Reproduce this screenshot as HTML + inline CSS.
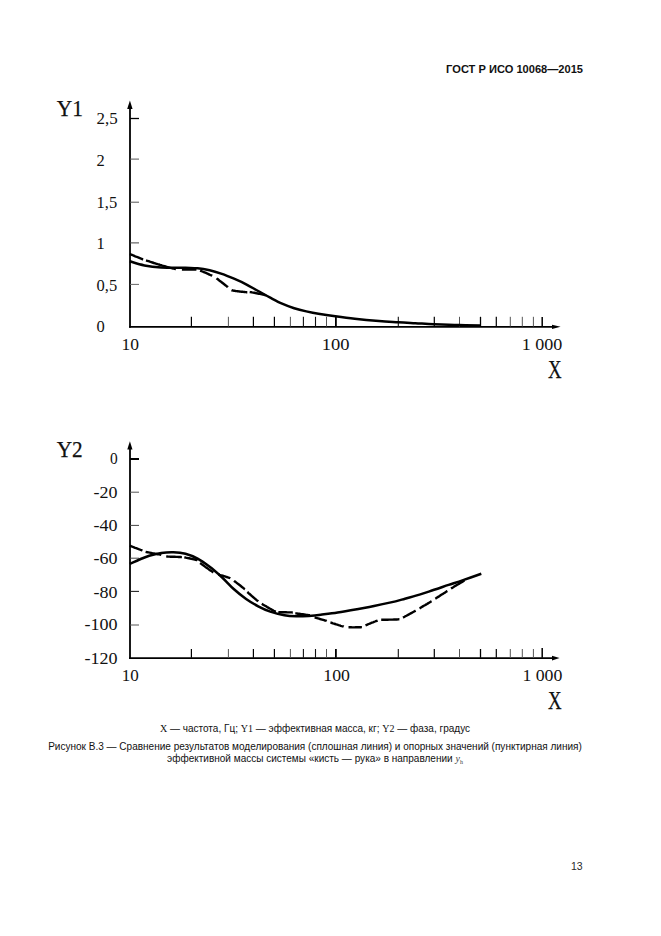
<!DOCTYPE html>
<html><head><meta charset="utf-8">
<style>
html,body{margin:0;padding:0;background:#fff;}
body{width:661px;height:936px;position:relative;overflow:hidden;font-family:"Liberation Sans",sans-serif;color:#111;}
svg{position:absolute;left:0;top:0;}

.t{position:absolute;white-space:nowrap;line-height:1;}
.hdr{font-weight:bold;font-size:11.1px;right:78px;top:63.8px;}
.cap{font-size:10.03px;text-align:center;left:-15.5px;width:661px;}
.sf{font-family:"Liberation Serif",serif;}
svg text{font-family:"Liberation Serif",serif;fill:#111;}
</style></head><body>
<svg width="661" height="936" viewBox="0 0 661 936">
<!-- chart 1 axes -->
<line x1="130" y1="106" x2="130" y2="327.7" stroke="#000" stroke-width="1.8"/>
<line x1="129.1" y1="326.8" x2="553" y2="326.8" stroke="#000" stroke-width="1.8"/>
<path d="M129.9 100.5 L132.6 108.9 L127.2 108.9 Z" fill="#000"/>
<path d="M560.6 326.8 L552 324.7 L552 328.9 Z" fill="#000"/>
<line x1="130" y1="118.5" x2="139" y2="118.5" stroke="#000" stroke-width="1.3"/>
<line x1="130" y1="159.1" x2="139" y2="159.1" stroke="#555" stroke-width="1"/>
<line x1="130" y1="202.2" x2="139" y2="202.2" stroke="#555" stroke-width="1"/>
<line x1="130" y1="242.9" x2="139" y2="242.9" stroke="#444" stroke-width="1"/>
<line x1="130" y1="284.4" x2="139" y2="284.4" stroke="#666" stroke-width="1"/>
<line x1="191.4" y1="316.8" x2="191.4" y2="326.5" stroke="#000" stroke-width="1.2"/>
<line x1="228.4" y1="316.8" x2="228.4" y2="326.5" stroke="#555" stroke-width="1.0"/>
<line x1="253.4" y1="316.8" x2="253.4" y2="326.5" stroke="#000" stroke-width="1.2"/>
<line x1="274.4" y1="316.8" x2="274.4" y2="326.5" stroke="#000" stroke-width="1.2"/>
<line x1="290.4" y1="316.8" x2="290.4" y2="326.5" stroke="#555" stroke-width="1.0"/>
<line x1="303.4" y1="316.8" x2="303.4" y2="326.5" stroke="#111" stroke-width="1.1"/>
<line x1="315.5" y1="316.8" x2="315.5" y2="326.5" stroke="#111" stroke-width="1.1"/>
<line x1="326.5" y1="316.8" x2="326.5" y2="326.5" stroke="#555" stroke-width="1.0"/>
<line x1="335.9" y1="316.8" x2="335.9" y2="326.5" stroke="#000" stroke-width="1.8"/>
<line x1="398.3" y1="316.8" x2="398.3" y2="326.5" stroke="#111" stroke-width="1.1"/>
<line x1="434.3" y1="316.8" x2="434.3" y2="326.5" stroke="#000" stroke-width="1.2"/>
<line x1="459.5" y1="316.8" x2="459.5" y2="326.5" stroke="#555" stroke-width="1.0"/>
<line x1="480.5" y1="316.8" x2="480.5" y2="326.5" stroke="#000" stroke-width="1.3"/>
<line x1="496.3" y1="316.8" x2="496.3" y2="326.5" stroke="#000" stroke-width="1.2"/>
<line x1="510.3" y1="316.8" x2="510.3" y2="326.5" stroke="#555" stroke-width="1.0"/>
<line x1="522.3" y1="316.8" x2="522.3" y2="326.5" stroke="#555" stroke-width="1.0"/>
<line x1="533.4" y1="316.8" x2="533.4" y2="326.5" stroke="#555" stroke-width="1.0"/>
<line x1="542.2" y1="317.1" x2="542.2" y2="326.5" stroke="#000" stroke-width="1.5"/>
<path d="M129.8 261.3 C132.2 262.0 139.2 264.4 144.4 265.4 C149.7 266.4 154.5 267.0 161.3 267.4 C168.2 267.8 179.4 267.6 185.5 267.8 C191.6 268.0 193.6 267.9 197.6 268.3 C201.6 268.7 205.6 269.4 209.7 270.3 C213.8 271.2 217.8 272.5 221.9 273.9 C226.0 275.3 230.0 277.0 234.0 278.7 C238.0 280.4 242.1 282.2 246.1 284.3 C250.1 286.4 254.2 288.8 258.2 291.0 C262.2 293.2 266.3 295.6 270.3 297.7 C274.3 299.8 278.1 301.9 282.1 303.6 C286.1 305.4 290.2 306.9 294.2 308.2 C298.2 309.5 302.3 310.5 306.3 311.4 C310.3 312.3 313.5 313.0 318.4 313.8 C323.2 314.6 329.3 315.5 335.4 316.3 C341.4 317.1 347.4 317.9 354.7 318.7 C362.0 319.5 371.7 320.4 379.0 321.0 C386.3 321.6 392.2 321.9 398.3 322.3 C404.4 322.7 409.4 322.9 415.3 323.2 C421.2 323.5 426.7 323.9 434.0 324.2 C441.3 324.5 451.2 324.9 459.0 325.1 C466.8 325.3 476.9 325.4 480.5 325.5" fill="none" stroke="#000" stroke-width="2.5"/>
<path d="M129.8 254.0 L130.4 254.2 L131.1 254.5 L131.8 254.8 L132.7 255.2 L133.7 255.6 L134.7 256.1 L135.8 256.5 L136.9 257.0 L138.1 257.4 L139.3 257.9 L140.5 258.4 L141.7 258.8 L142.8 259.3 L143.2 259.4 M146.0 260.4 L147.3 260.8 L148.6 261.2 L149.9 261.7 L151.2 262.1 L152.5 262.5 L153.9 263.0 L155.2 263.4 L156.5 263.8 L157.7 264.2 L158.9 264.5 L160.1 264.9 L161.2 265.2 L162.3 265.6 L163.4 265.9 L164.5 266.2 L165.6 266.5 L166.6 266.8 L167.6 267.1 L168.6 267.4 L169.6 267.7 L170.5 267.9 L171.4 268.1 L172.3 268.3 L173.1 268.5 L173.9 268.7 L174.7 268.9 L175.3 269.0 L175.9 269.1 L175.9 269.1 M181.9 269.6 L182.8 269.6 L183.9 269.6 L185.0 269.6 L186.1 269.6 L187.4 269.6 L188.6 269.6 L189.9 269.6 L191.1 269.6 L192.3 269.6 L193.4 269.6 L194.4 269.6 L195.4 269.6 L196.2 269.6 L196.4 269.6 M200.1 270.5 L200.8 270.8 L201.5 271.1 L202.4 271.5 L203.4 271.9 L204.4 272.3 L205.4 272.7 L206.5 273.2 L207.5 273.7 L208.5 274.1 L209.5 274.6 L210.4 275.0 L211.3 275.4 L212.0 275.7 L212.2 275.8 M216.5 278.3 L217.1 278.8 L217.9 279.3 L218.7 280.0 L219.6 280.7 L220.6 281.4 L221.6 282.2 L222.6 283.0 L223.6 283.8 L224.5 284.5 L225.4 285.2 L226.3 285.9 L227.0 286.5 L227.7 287.0 L227.9 287.2 M231.5 290.1 L231.9 290.3 L232.4 290.4 L232.9 290.5 L233.4 290.6 L233.9 290.7 L234.5 290.8 L235.0 290.9 L235.6 291.0 L236.2 291.1 L236.8 291.1 L237.4 291.2 L238.0 291.3 L238.6 291.4 L239.2 291.5 L239.8 291.5 L240.5 291.6 L241.2 291.7 L241.9 291.8 L242.6 291.8 L243.4 291.9 L244.1 292.0 L244.7 292.0 L245.4 292.1 L246.0 292.1 L246.5 292.2 L247.0 292.2 L247.3 292.2 M249.7 292.0 L250.4 292.1 L251.2 292.2 L252.1 292.4 L253.2 292.6 L254.3 292.8 L255.4 293.0 L256.6 293.3 L257.8 293.5 L258.9 293.7 L260.0 293.9 L261.0 294.2 L262.0 294.4 L262.8 294.5 L263.4 294.7 L264.1 294.9 L264.6 295.0 L265.1 295.2 L265.6 295.3 L266.0 295.5 L266.0 295.5" fill="none" stroke="#000" stroke-width="2.4"/>
<g font-size="16.5">
<text x="96.5" y="123.8" textLength="21.2" lengthAdjust="spacingAndGlyphs">2,5</text>
<text x="96.5" y="165.5">2</text>
<text x="96.5" y="207.6">1,5</text>
<text x="96.5" y="249.4">1</text>
<text x="96.5" y="291.3">0,5</text>
<text x="96.5" y="332.3">0</text>
<text x="121.5" y="350" textLength="17.5" lengthAdjust="spacingAndGlyphs">10</text>
<text x="321.8" y="350" textLength="27.8" lengthAdjust="spacingAndGlyphs">100</text>
<text x="521.8" y="349.6" textLength="40.6" lengthAdjust="spacingAndGlyphs">1 000</text>
</g>
<text x="56.7" y="116" font-size="23.6" textLength="26.2" lengthAdjust="spacingAndGlyphs" stroke="#111" stroke-width="0.25">Y1</text>
<text x="548" y="378" font-size="24.5" textLength="13.6" lengthAdjust="spacingAndGlyphs" stroke="#111" stroke-width="0.25">X</text>

<!-- chart 2 axes -->
<line x1="130" y1="446" x2="130" y2="658.9" stroke="#000" stroke-width="1.8"/>
<line x1="129.1" y1="658.1" x2="553" y2="658.1" stroke="#000" stroke-width="1.6"/>
<path d="M129.9 441.2 L132.5 449.4 L127.3 449.4 Z" fill="#000"/>
<path d="M559.6 658.1 L552 655.8 L552 660.4 Z" fill="#000"/>
<line x1="130" y1="459.0" x2="139" y2="459.0" stroke="#000" stroke-width="2.0"/>
<line x1="130" y1="492.2" x2="139" y2="492.2" stroke="#555" stroke-width="1"/>
<line x1="130" y1="525.4" x2="139" y2="525.4" stroke="#444" stroke-width="1"/>
<line x1="130" y1="558.2" x2="139" y2="558.2" stroke="#444" stroke-width="1"/>
<line x1="130" y1="591.4" x2="139" y2="591.4" stroke="#222" stroke-width="1.1"/>
<line x1="130" y1="625" x2="139" y2="625" stroke="#555" stroke-width="1"/>
<line x1="191.4" y1="649.0" x2="191.4" y2="657.8" stroke="#000" stroke-width="1.2"/>
<line x1="228.4" y1="649.0" x2="228.4" y2="657.8" stroke="#555" stroke-width="1.0"/>
<line x1="253.4" y1="649.0" x2="253.4" y2="657.8" stroke="#000" stroke-width="1.2"/>
<line x1="274.4" y1="649.0" x2="274.4" y2="657.8" stroke="#000" stroke-width="1.2"/>
<line x1="290.4" y1="649.0" x2="290.4" y2="657.8" stroke="#555" stroke-width="1.0"/>
<line x1="303.4" y1="649.0" x2="303.4" y2="657.8" stroke="#111" stroke-width="1.1"/>
<line x1="315.5" y1="649.0" x2="315.5" y2="657.8" stroke="#111" stroke-width="1.1"/>
<line x1="326.5" y1="649.0" x2="326.5" y2="657.8" stroke="#555" stroke-width="1.0"/>
<line x1="335.9" y1="649.0" x2="335.9" y2="657.8" stroke="#000" stroke-width="1.8"/>
<line x1="398.3" y1="649.0" x2="398.3" y2="657.8" stroke="#111" stroke-width="1.1"/>
<line x1="434.3" y1="649.0" x2="434.3" y2="657.8" stroke="#000" stroke-width="1.2"/>
<line x1="459.5" y1="649.0" x2="459.5" y2="657.8" stroke="#555" stroke-width="1.0"/>
<line x1="480.5" y1="649.0" x2="480.5" y2="657.8" stroke="#000" stroke-width="1.3"/>
<line x1="496.3" y1="649.0" x2="496.3" y2="657.8" stroke="#000" stroke-width="1.2"/>
<line x1="510.3" y1="649.0" x2="510.3" y2="657.8" stroke="#555" stroke-width="1.0"/>
<line x1="522.3" y1="649.0" x2="522.3" y2="657.8" stroke="#555" stroke-width="1.0"/>
<line x1="533.4" y1="649.0" x2="533.4" y2="657.8" stroke="#555" stroke-width="1.0"/>
<line x1="542.2" y1="647.9" x2="542.2" y2="657.8" stroke="#000" stroke-width="1.5"/>
<path d="M129.8 563.9 C131.4 563.2 136.3 560.9 139.5 559.5 C142.7 558.1 145.6 556.8 149.2 555.7 C152.8 554.6 157.3 553.6 161.3 553.0 C165.3 552.4 169.4 552.2 173.4 552.3 C177.4 552.4 181.5 552.7 185.5 553.7 C189.5 554.8 193.6 556.4 197.6 558.6 C201.6 560.8 205.6 563.7 209.7 566.8 C213.8 569.9 217.8 573.5 221.9 577.2 C226.0 581.0 230.0 585.7 234.0 589.3 C238.0 592.9 242.1 596.2 246.1 599.0 C250.1 601.8 254.2 604.2 258.2 606.3 C262.2 608.4 265.9 610.1 270.3 611.6 C274.7 613.1 280.0 614.4 284.4 615.2 C288.8 616.0 292.5 616.1 296.5 616.2 C300.5 616.3 304.6 616.1 308.6 615.9 C312.6 615.6 315.9 615.3 320.7 614.7 C325.5 614.1 331.6 613.4 337.6 612.5 C343.7 611.6 350.9 610.3 357.0 609.2 C363.1 608.1 368.4 607.1 374.0 606.0 C379.6 604.9 385.7 603.6 390.9 602.4 C396.1 601.2 400.2 600.0 405.0 598.7 C409.8 597.4 414.6 596.1 419.5 594.6 C424.4 593.1 429.2 591.4 434.1 589.8 C439.0 588.2 443.8 586.5 448.6 584.9 C453.4 583.3 457.7 582.0 463.1 580.1 C468.6 578.2 478.3 574.8 481.3 573.8" fill="none" stroke="#000" stroke-width="2.5"/>
<path d="M129.8 545.7 L130.4 545.9 L131.1 546.2 L132.0 546.5 L132.9 546.9 L134.0 547.3 L135.1 547.8 L136.3 548.2 L137.4 548.7 L138.6 549.1 L139.6 549.5 L140.6 549.9 L141.5 550.2 L142.2 550.5 L142.4 550.6 M145.6 551.8 L146.4 552.0 L147.4 552.2 L148.5 552.4 L149.7 552.6 L151.0 552.9 L152.4 553.2 L153.8 553.4 L155.2 553.7 L156.6 553.9 L157.8 554.2 L159.0 554.4 L160.1 554.6 L161.0 554.8 L161.3 554.9 M166.2 556.4 L167.1 556.5 L168.1 556.6 L169.3 556.6 L170.5 556.7 L171.9 556.7 L173.3 556.8 L174.7 556.8 L176.1 556.9 L177.4 556.9 L178.7 557.0 L179.8 557.0 L180.8 557.0 L181.7 557.1 L181.9 557.1 M184.3 557.4 L185.0 557.5 L185.8 557.7 L186.8 557.9 L187.8 558.1 L189.0 558.3 L190.1 558.5 L191.3 558.8 L192.5 559.0 L193.7 559.3 L194.8 559.5 L195.8 559.8 L196.7 560.0 L197.4 560.2 L197.6 560.3 M200.1 563.0 L200.8 563.5 L201.6 564.1 L202.5 564.8 L203.6 565.6 L204.7 566.4 L205.8 567.2 L207.0 568.0 L208.2 568.9 L209.3 569.7 L210.4 570.4 L211.4 571.1 L212.4 571.7 L213.2 572.3 L213.4 572.4 M218.2 574.3 L218.9 574.5 L219.7 574.8 L220.6 575.1 L221.6 575.4 L222.6 575.7 L223.6 576.0 L224.7 576.3 L225.7 576.6 L226.7 577.0 L227.7 577.3 L228.6 577.6 L229.4 577.9 L230.1 578.1 L230.3 578.2 M234.0 580.8 L234.6 581.3 L235.3 581.8 L236.1 582.4 L237.0 583.1 L237.9 583.8 L238.9 584.5 L239.9 585.3 L240.8 586.0 L241.7 586.8 L242.6 587.4 L243.4 588.1 L244.1 588.7 L244.7 589.2 L244.9 589.3 M247.3 592.0 L247.9 592.5 L248.5 593.1 L249.3 593.8 L250.2 594.5 L251.1 595.3 L252.0 596.2 L253.0 597.0 L254.0 597.8 L254.9 598.6 L255.8 599.4 L256.6 600.1 L257.4 600.7 L258.0 601.2 L258.2 601.4 M261.8 603.8 L262.5 604.2 L263.2 604.7 L264.1 605.2 L265.0 605.7 L266.1 606.3 L267.1 607.0 L268.2 607.6 L269.2 608.2 L270.2 608.8 L271.2 609.3 L272.1 609.9 L273.0 610.3 L273.7 610.7 L274.3 611.0 L274.7 611.2 L275.1 611.4 L275.4 611.6 L275.6 611.7 L275.8 611.8 L275.9 611.8 M278.3 612.1 L279.1 612.2 L280.0 612.2 L281.1 612.2 L282.3 612.3 L283.5 612.3 L284.8 612.3 L286.1 612.3 L287.4 612.4 L288.6 612.4 L289.8 612.4 L290.8 612.4 L291.8 612.4 L292.6 612.5 L292.8 612.5 M295.3 613.3 L296.0 613.4 L296.9 613.5 L297.9 613.7 L299.1 613.8 L300.3 614.0 L301.5 614.2 L302.8 614.3 L304.1 614.5 L305.4 614.7 L306.6 614.9 L307.7 615.0 L308.7 615.2 L309.5 615.3 L309.8 615.4 M314.6 617.4 L315.3 617.6 L316.1 617.9 L317.0 618.1 L318.0 618.4 L319.0 618.7 L320.0 619.0 L321.1 619.3 L322.1 619.6 L323.1 619.9 L324.1 620.2 L325.0 620.5 L325.8 620.7 L326.5 620.9 L326.7 621.0 M330.4 622.5 L331.1 622.7 L332.0 623.0 L332.9 623.3 L334.0 623.6 L335.1 624.0 L336.2 624.4 L337.4 624.7 L338.5 625.1 L339.7 625.4 L340.7 625.8 L341.8 626.1 L342.7 626.3 L343.5 626.5 L343.7 626.6 M348.5 627.3 L349.3 627.3 L350.1 627.3 L351.1 627.3 L352.2 627.4 L353.3 627.4 L354.5 627.4 L355.7 627.3 L356.8 627.3 L358.0 627.3 L359.0 627.3 L360.0 627.2 L360.9 627.2 L361.7 627.1 L361.9 627.1 M365.5 625.4 L366.2 625.1 L366.9 624.8 L367.8 624.4 L368.8 624.0 L369.8 623.6 L370.8 623.2 L371.9 622.7 L373.0 622.3 L374.0 621.9 L375.0 621.5 L375.9 621.1 L376.7 620.8 L377.4 620.6 L377.6 620.5 M381.2 619.8 L382.1 619.8 L383.3 619.7 L384.6 619.7 L386.0 619.7 L387.6 619.7 L389.2 619.6 L390.8 619.6 L392.5 619.6 L394.0 619.5 L395.5 619.5 L396.9 619.5 L398.1 619.4 L399.1 619.3 L399.4 619.3 M403.0 617.6 L403.7 617.2 L404.5 616.8 L405.4 616.3 L406.4 615.8 L407.4 615.2 L408.5 614.6 L409.6 614.0 L410.7 613.4 L411.7 612.9 L412.8 612.3 L413.7 611.8 L414.6 611.3 L415.3 610.9 L415.7 610.7 M419.5 608.4 L420.2 608.0 L421.0 607.5 L421.8 607.0 L422.8 606.4 L423.8 605.8 L424.9 605.2 L425.9 604.6 L427.0 604.0 L428.0 603.4 L429.0 602.8 L429.9 602.2 L430.7 601.8 L431.4 601.3 L431.6 601.2 M435.3 598.7 L436.0 598.3 L436.7 597.8 L437.6 597.2 L438.6 596.6 L439.6 596.0 L440.6 595.3 L441.7 594.6 L442.8 593.9 L443.8 593.3 L444.8 592.7 L445.7 592.1 L446.5 591.6 L447.2 591.1 L447.4 591.0 M451.0 588.6 L451.6 588.2 L452.4 587.7 L453.3 587.2 L454.2 586.6 L455.1 586.0 L456.2 585.4 L457.2 584.8 L458.2 584.2 L459.2 583.6 L460.2 583.0 L461.2 582.4 L462.1 581.9 L462.9 581.4 L463.6 581.0 L464.3 580.7 L464.5 580.6" fill="none" stroke="#000" stroke-width="2.4"/>
<g font-size="16.5" text-anchor="end">
<text x="117.6" y="464.4" textLength="7.7" lengthAdjust="spacingAndGlyphs">0</text>
<text x="117.6" y="497.5" textLength="24" lengthAdjust="spacingAndGlyphs">-20</text>
<text x="117.6" y="530.8" textLength="24" lengthAdjust="spacingAndGlyphs">-40</text>
<text x="117.6" y="564" textLength="24" lengthAdjust="spacingAndGlyphs">-60</text>
<text x="117.6" y="597.7" textLength="24" lengthAdjust="spacingAndGlyphs">-80</text>
<text x="117.6" y="630.4" textLength="33.1" lengthAdjust="spacingAndGlyphs">-100</text>
<text x="117.6" y="664" textLength="33.1" lengthAdjust="spacingAndGlyphs">-120</text>
</g>
<g font-size="16.5">
<text x="121.8" y="680.8" textLength="17" lengthAdjust="spacingAndGlyphs">10</text>
<text x="323.3" y="680.8" textLength="26.7" lengthAdjust="spacingAndGlyphs">100</text>
<text x="522.4" y="680.8" textLength="40" lengthAdjust="spacingAndGlyphs">1 000</text>
</g>
<text x="56.7" y="457" font-size="23.6" textLength="26" lengthAdjust="spacingAndGlyphs" stroke="#111" stroke-width="0.25">Y2</text>
<text x="548" y="709" font-size="24.5" textLength="13.6" lengthAdjust="spacingAndGlyphs" stroke="#111" stroke-width="0.25">X</text>
</svg>
<div class="t hdr">ГОСТ Р ИСО 10068—2015</div>
<div class="t cap" style="top:723.5px;"><span class="sf">X</span> — частота, Гц; <span class="sf">Y1</span> — эффективная масса, кг; <span class="sf">Y2</span> — фаза, градус</div>
<div class="t cap" style="top:741.6px;">Рисунок В.3 — Сравнение результатов моделирования (сплошная линия) и опорных значений (пунктирная линия)</div>
<div class="t cap" style="top:753.6px;">эффективной массы системы «кисть — рука» в направлении <i class="sf" style="color:#444;">y</i><sub class="sf" style="font-size:6px;vertical-align:-2px;color:#444;">h</sub></div>
<div class="t" style="font-size:10.5px;left:571px;top:861px;color:#2a2a2a;">13</div>
</body></html>
